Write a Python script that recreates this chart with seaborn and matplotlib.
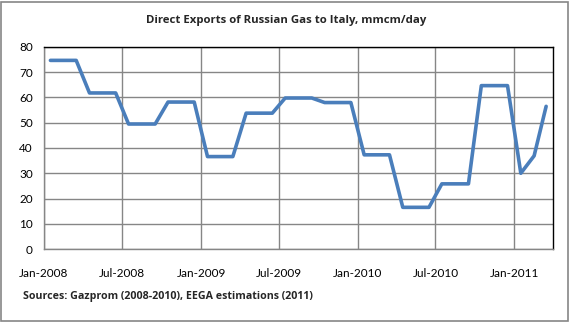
import matplotlib
matplotlib.use("Agg")
import matplotlib.pyplot as plt
import matplotlib.dates as mdates
from matplotlib.patches import Rectangle
import seaborn as sns
import pandas as pd

months = pd.date_range("2008-01-01", periods=39, freq="MS") + pd.Timedelta(days=15)
values = [74.7, 74.7, 74.7, 61.8, 61.8, 61.8, 49.5, 49.5, 49.5, 58.2, 58.2, 58.2,
          36.6, 36.6, 36.6, 53.8, 53.8, 53.8, 59.8, 59.8, 59.8, 58.0, 58.0, 58.0,
          37.3, 37.3, 37.3, 16.5, 16.5, 16.5, 25.8, 25.8, 25.8, 64.7, 64.7, 64.7,
          30.0, 36.9, 56.5]
title = "Direct Exports of Russian Gas to Italy, mmcm/day"
source = "Sources: Gazprom (2008-2010), EEGA estimations (2011)"
yticks = [0, 10, 20, 30, 40, 50, 60, 70, 80]

df = pd.DataFrame({"month": months, "value": values})

sns.set_theme(style="white")
plt.rcParams["font.family"] = ["Lato", "DejaVu Sans"]

W, H = 569, 322
fig = plt.figure(figsize=(W / 100, H / 100), dpi=100)
ax = fig.add_axes([44 / W, 1 - 249 / H, (553 - 44) / W, (249 - 47) / H])

sns.lineplot(data=df, x="month", y="value", ax=ax, color="#4a7ebb", linewidth=2.6)

ax.set_xlim(pd.Timestamp("2008-01-01"), pd.Timestamp("2011-04-01"))
ax.set_ylim(0, 80)
ax.set_yticks(yticks)
ax.xaxis.set_major_locator(mdates.MonthLocator(bymonth=[1, 7]))
ax.xaxis.set_major_formatter(mdates.DateFormatter("%b-%Y"))
ax.grid(True, color="#868686", linewidth=1.0)
ax.set_axisbelow(True)
ax.set_xlabel("")
ax.set_ylabel("")
ax.tick_params(axis="both", which="major", length=4, width=1, color="#868686",
               labelsize=8.5, labelcolor="black", direction="out")
ax.tick_params(axis="x", pad=10)
ax.tick_params(axis="y", pad=4)
for s in ["top", "right"]:
    ax.spines[s].set_color("black")
    ax.spines[s].set_linewidth(1.0)
for s in ["left", "bottom"]:
    ax.spines[s].set_color("#868686")
    ax.spines[s].set_linewidth(1.0)

fig.text(286 / W, 1 - 20 / H, title, ha="center", va="center",
         fontsize=8.2, fontweight="bold", family=["Open Sans", "DejaVu Sans"])
fig.text(23 / W, 1 - 296 / H, source, ha="left", va="center",
         fontsize=7.7, fontweight="bold", family=["Open Sans", "DejaVu Sans"])

fig.patches.append(Rectangle((0.5 / W, 1.5 / H), (W - 1.5) / W, (H - 3) / H,
                             transform=fig.transFigure, fill=False,
                             edgecolor="#868686", linewidth=1.2))

fig.savefig("out.png", dpi=100)
